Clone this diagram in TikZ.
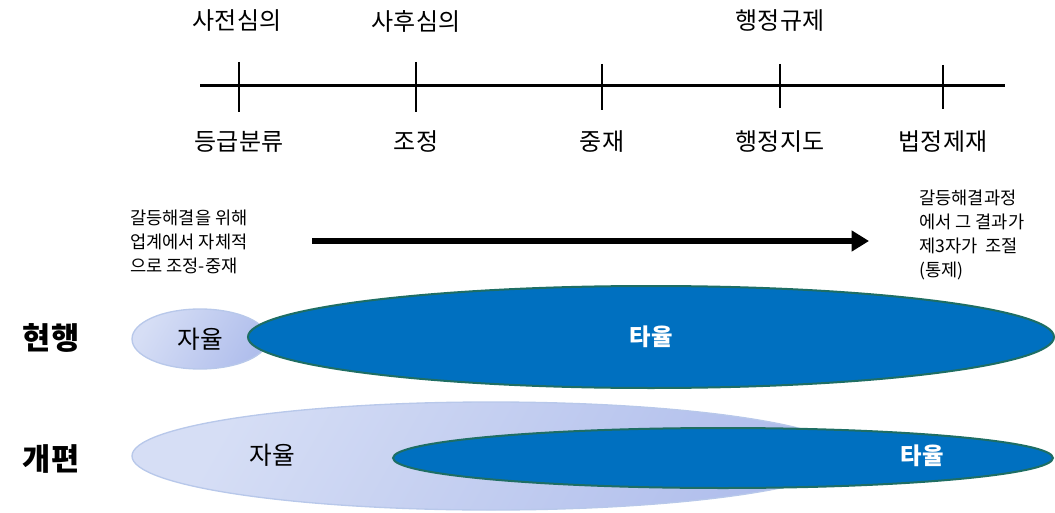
\documentclass[tikz,border=0pt]{standalone}
\usepackage{fontspec}
\setmainfont{Noto Sans CJK KR}
\usetikzlibrary{shapes.geometric,arrows.meta}
\definecolor{tablue}{RGB}{0,112,192}
\definecolor{tabord}{RGB}{30,110,100}
\definecolor{jalight}{RGB}{214,222,245}
\definecolor{jadark}{RGB}{176,190,236}
\definecolor{jabord}{RGB}{184,200,234}
\tikzset{
  toplbl/.style={font=\fontsize{18pt}{21pt}\selectfont, inner sep=0pt},
  note/.style={font=\fontsize{13.2pt}{18pt}\selectfont, align=left, inner sep=0pt},
  rowlbl/.style={font=\bfseries\fontsize{23pt}{26pt}\selectfont, inner sep=0pt},
  jaellipse/.style={ellipse, draw=jabord, line width=1pt, left color=jalight, right color=jadark, shading angle=60, inner sep=0pt},
  taellipse/.style={ellipse, draw=tabord, line width=1.5pt, fill=tablue, inner sep=0pt},
  tick/.style={line width=1pt},
  axis/.style={line width=2.25pt},
}
\begin{document}
\begin{tikzpicture}[x=0.75pt,y=-0.75pt]
\useasboundingbox (0,0) rectangle (1055,513);
% timeline
\coordinate (a0) at (200,86);
\coordinate (a1) at (1005,86);
\draw[axis] (a0) -- (a1);
\foreach \n/\x/\t/\b in {1/239/62/112, 2/416/62/112, 3/602/64/110, 4/780/64/108, 5/943/65/109}{
  \coordinate (t\n a) at (\x,\t);
  \coordinate (t\n b) at (\x,\b);
  \draw[tick] (t\n a) -- (t\n b);
}
\node[toplbl] (l1) at (237,21) {사전심의};
\node[toplbl] (l2) at (416,21) {사후심의};
\node[toplbl] (l3) at (780,21) {행정규제};
\node[toplbl] (b1) at (239,142) {등급분류};
\node[toplbl] (b2) at (416,142) {조정};
\node[toplbl] (b3) at (602,142) {중재};
\node[toplbl] (b4) at (780,142) {행정지도};
\node[toplbl] (b5) at (943,142) {법정제재};
% notes
\node[note, anchor=west] (n1) at (130,242) {갈등해결을 위해\\업계에서 자체적\\으로 조정-중재};
\node[note, anchor=west] (n2) at (919,235) {갈등해결과정\\에서 그 결과가\\제3자가\ \ 조절\\(통제)};
\coordinate (ar0) at (312,241);
\coordinate (ar1) at (869,241);
\draw[line width=4.5pt, -{Triangle[length=13pt,width=15pt]}] (ar0) -- (ar1);
% rows
\node[rowlbl] (r1) at (51,338) {현행};
\node[rowlbl] (r2) at (51,459) {개편};
% current
\node[jaellipse, minimum width=102pt, minimum height=45pt, font=\fontsize{18.5pt}{21pt}\selectfont] (j1) at (200,339) {자율};
\node[taellipse, minimum width=604.5pt, minimum height=76.5pt, text=white, font=\bfseries\fontsize{17.5pt}{20pt}\selectfont] (t1) at (651,337) {타율};
% reform
\node[jaellipse, minimum width=538.5pt, minimum height=81pt] (j2) at (491,456) {};
\node[inner sep=0pt, font=\fontsize{18.5pt}{21pt}\selectfont] (j2t) at (272,455) {자율};
\node[taellipse, minimum width=495pt, minimum height=45pt] (t2) at (723,458) {};
\node[inner sep=0pt, text=white, font=\bfseries\fontsize{17.5pt}{20pt}\selectfont] (t2t) at (922,456) {타율};
\end{tikzpicture}
\end{document}
